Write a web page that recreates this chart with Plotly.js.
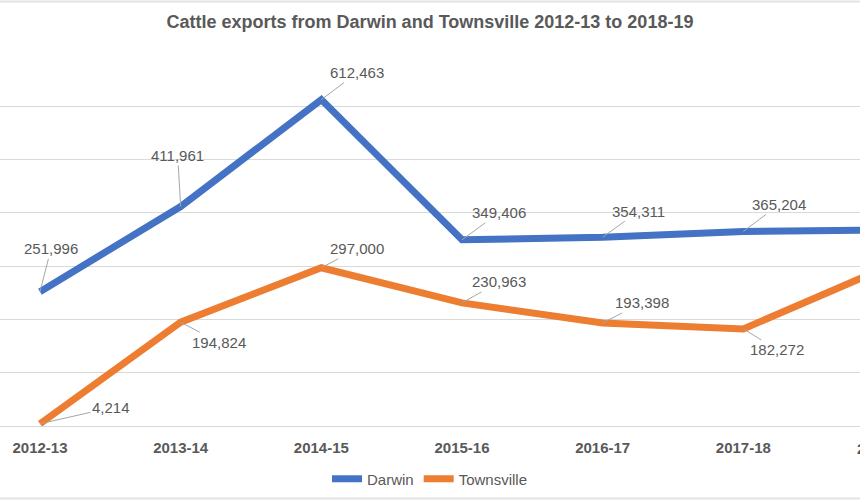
<!DOCTYPE html>
<html>
<head>
<meta charset="utf-8">
<script src="https://cdn.plot.ly/plotly-3.0.1.min.js"></script>
<style>
  html, body { margin: 0; padding: 0; background: #ffffff; }
  #chart { width: 860px; height: 500px; }
</style>
</head>
<body>
<div id="chart"></div>
<script>
// Financial years
const years = ['2012-13', '2013-14', '2014-15', '2015-16', '2016-17', '2017-18', '2018-19'];

// Head of cattle exported
const darwin = [251996, 411961, 612463, 349406, 354311, 365204, 368000];
const townsville = [4214, 194824, 297000, 230963, 193398, 182272, 296000];

// Pixel offsets of each value label from its point (leader lines join them)
const darwinLabelDx = [11, -3, 36, 37, 36, 36, 36];
const darwinLabelDy = [-43, -51, -27, -27, -26, -27, -27];
const townsvilleLabelDx = [71, 38, 36, 37, 39, 34, 36];
const townsvilleLabelDy = [-16, 20, -19, -21, -20, 21, -20];

const BLUE = '#4472C4';
const ORANGE = '#ED7D31';
const TEXT = '#595959';
const GRID = '#d9d9d9';
const FONT = '"Liberation Sans", Arial, sans-serif';

// Visible slice of the category axis (the last year runs off the right edge)
const X_RANGE = [-40 / 140.67, 820 / 140.67];

const fmt = v => v.toLocaleString('en-US');

function labels(values, dx, dy) {
  return values.map((v, i) => ({
    x: years[i],
    y: v,
    xref: 'x',
    yref: 'y',
    text: fmt(v),
    showarrow: true,
    arrowhead: 0,
    arrowwidth: 1,
    arrowcolor: '#a6a6a6',
    standoff: 0,
    startstandoff: 0,
    ax: dx[i],
    ay: dy[i],
    font: { family: FONT, size: 15, color: TEXT }
  }));
}

// Category labels that fall beyond the axis range are still drawn, cut by the page edge
const overflowTicks = years
  .map((y, i) => ({ y, i }))
  .filter(d => d.i > X_RANGE[1])
  .map(d => ({
    x: (d.i - X_RANGE[0]) / (X_RANGE[1] - X_RANGE[0]),
    xref: 'paper',
    xanchor: 'center',
    y: 426 - 448,
    yref: 'paper',
    text: d.y,
    showarrow: false,
    font: { family: FONT, size: 15, color: TEXT, weight: 700 }
  }))
  .map(a => Object.assign(a, { y: a.y / 373, yanchor: 'middle' }));

const traces = [
  {
    type: 'scatter',
    mode: 'lines',
    name: 'Darwin',
    x: years,
    y: darwin,
    line: { color: BLUE, width: 7 },
    hoverinfo: 'skip'
  },
  {
    type: 'scatter',
    mode: 'lines',
    name: 'Townsville',
    x: years,
    y: townsville,
    line: { color: ORANGE, width: 7 },
    hoverinfo: 'skip'
  }
];

// Thin frame lines above and below the chart area
const frame = [1.5, 498.5].map(py => ({
  type: 'line',
  xref: 'paper',
  yref: 'paper',
  x0: 0,
  x1: 1,
  y0: (426 - py) / 373,
  y1: (426 - py) / 373,
  line: { color: '#e3e3e3', width: 2 }
}));

const layout = {
  width: 860,
  height: 500,
  margin: { l: 0, r: 0, t: 53, b: 74, pad: 0 },
  paper_bgcolor: '#ffffff',
  plot_bgcolor: '#ffffff',
  font: { family: FONT, color: TEXT },
  title: {
    text: 'Cattle exports from Darwin and Townsville 2012-13 to 2018-19',
    x: 0.5,
    xanchor: 'center',
    xref: 'paper',
    y: 1 - 22 / 500,
    yref: 'container',
    yanchor: 'middle',
    font: { family: FONT, size: 18, color: TEXT, weight: 700 }
  },
  xaxis: {
    type: 'category',
    range: X_RANGE,
    showgrid: false,
    zeroline: false,
    showline: false,
    ticks: '',
    ticklabelstandoff: 11,
    tickfont: { family: FONT, size: 15, color: TEXT, weight: 700 }
  },
  yaxis: {
    range: [0, 700000],
    dtick: 100000,
    showticklabels: false,
    showgrid: true,
    gridcolor: GRID,
    gridwidth: 1,
    zeroline: true,
    zerolinecolor: GRID,
    zerolinewidth: 1,
    showline: false,
    ticks: ''
  },
  showlegend: true,
  legend: {
    orientation: 'h',
    x: 0.5,
    xanchor: 'center',
    y: -0.142,
    yanchor: 'middle',
    font: { family: FONT, size: 15, color: TEXT },
    itemwidth: 30,
    tracegroupgap: 0
  },
  annotations: labels(darwin, darwinLabelDx, darwinLabelDy)
    .concat(labels(townsville, townsvilleLabelDx, townsvilleLabelDy))
    .concat(overflowTicks),
  shapes: frame
};

Plotly.newPlot('chart', traces, layout, { displayModeBar: false, staticPlot: true });
</script>
</body>
</html>
